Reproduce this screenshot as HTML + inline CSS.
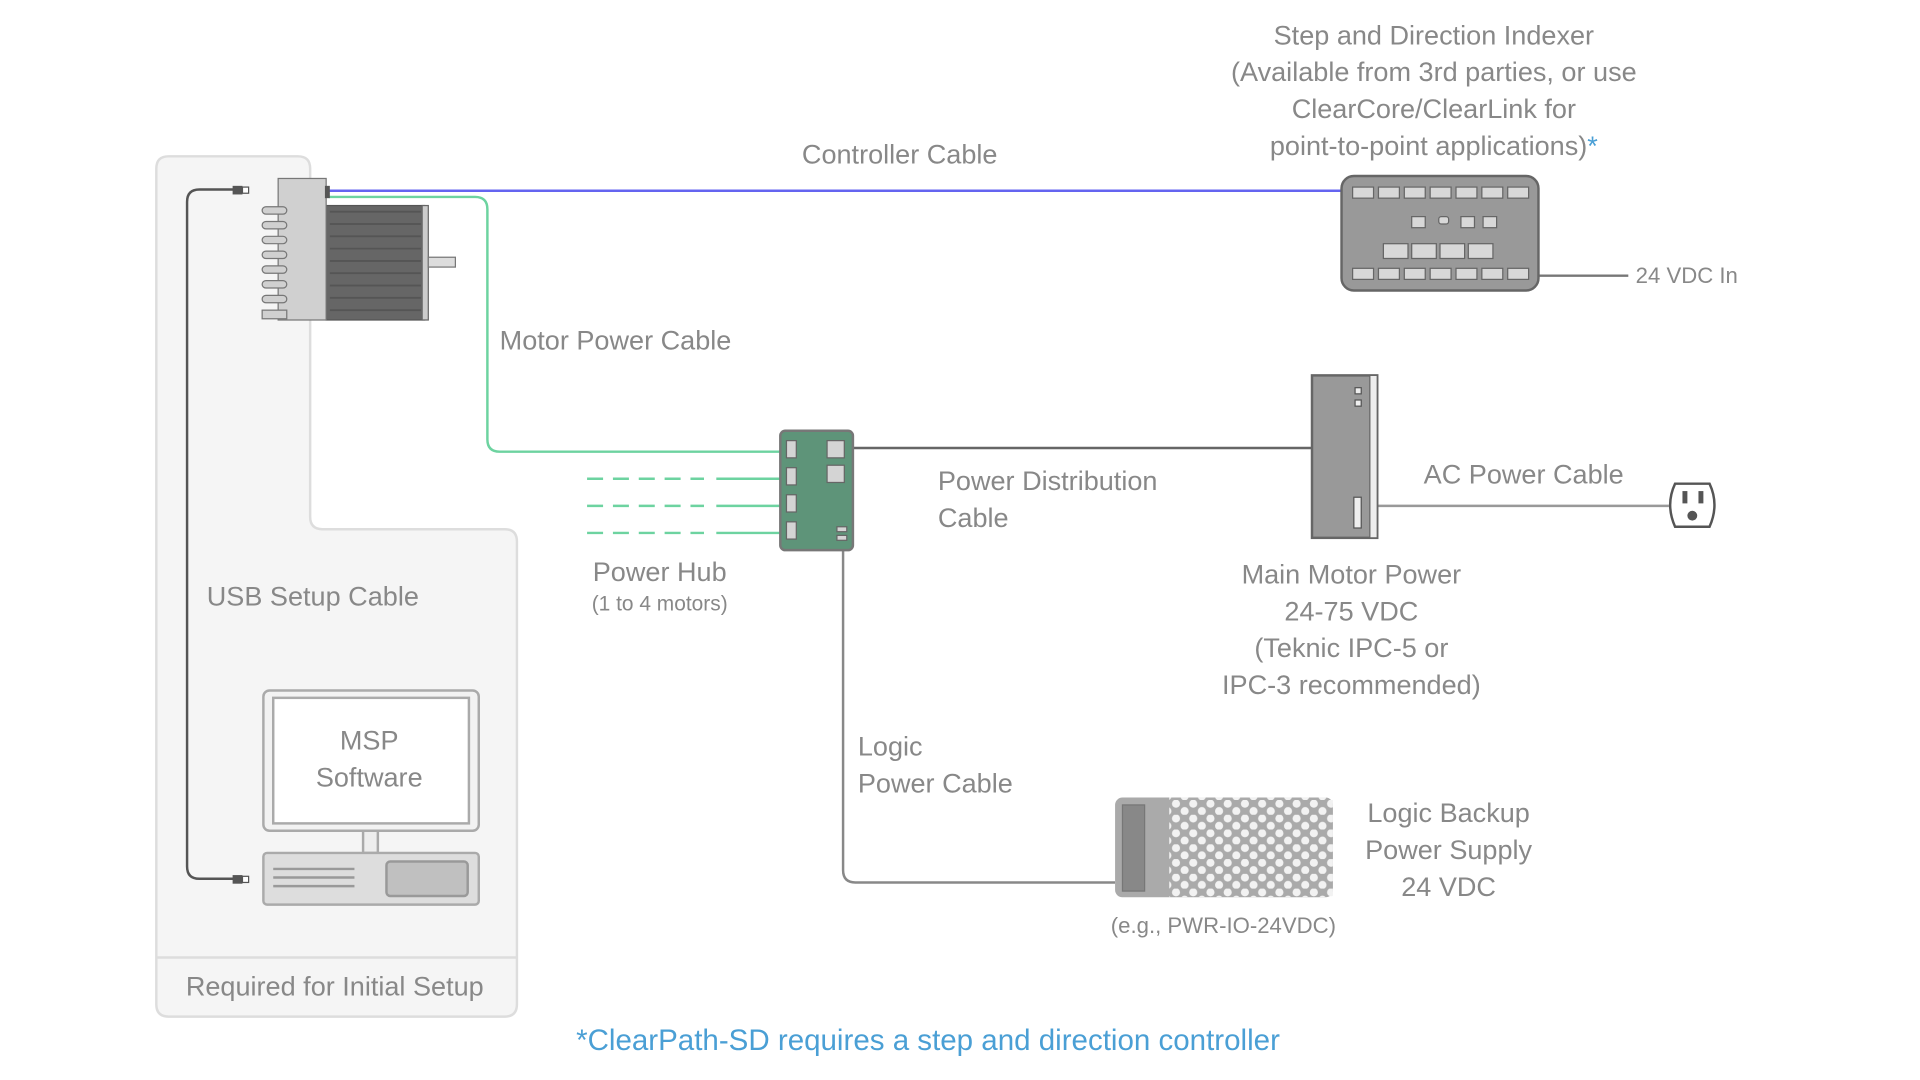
<!DOCTYPE html>
<html><head><meta charset="utf-8"><style>
html,body{margin:0;padding:0;background:#fff;}
svg{display:block;}
text{font-family:"Liberation Sans",sans-serif;fill:#888;}
</style></head><body>
<svg width="1920" height="1080" viewBox="0 0 1560 877.5" preserveAspectRatio="none" xmlns="http://www.w3.org/2000/svg">
<defs>
<pattern id="hex" x="952" y="650" width="14" height="12" patternUnits="userSpaceOnUse">
<circle cx="3.5" cy="3" r="3.3" fill="#f2f2f2"/><circle cx="10.5" cy="9" r="3.3" fill="#f2f2f2"/>
</pattern>
</defs>
<path d="M137 127 H242 Q252 127 252 137 V420 Q252 430 262 430 H410 Q420 430 420 440 V816 Q420 826 410 826 H137 Q127 826 127 816 V137 Q127 127 137 127 Z" fill="#f5f5f5" stroke="#ddd" stroke-width="2"/>
<line x1="127" y1="778" x2="420" y2="778" stroke="#ddd" stroke-width="2"/>
<text x="272" y="809" font-size="22" text-anchor="middle">Required for Initial Setup</text>
<text x="168" y="492" font-size="22">USB Setup Cable</text>
<path d="M193 154 H162 Q152 154 152 164 V704 Q152 714 162 714 H193" fill="none" stroke="#555" stroke-width="2"/>
<rect x="189" y="151" width="8" height="7" fill="#555"/><rect x="197" y="152" width="5" height="5" fill="#fff" stroke="#555"/>
<rect x="189" y="711" width="8" height="7" fill="#555"/><rect x="197" y="712" width="5" height="5" fill="#fff" stroke="#555"/>
<rect x="214" y="561" width="175" height="114" rx="5" fill="#f2f2f2" stroke="#aaa" stroke-width="2"/>
<rect x="222" y="567" width="159" height="102" fill="#fff" stroke="#aaa" stroke-width="2"/>
<text x="300" y="609" font-size="22" text-anchor="middle">MSP</text>
<text x="300" y="639" font-size="22" text-anchor="middle">Software</text>
<rect x="295" y="675" width="12" height="18" fill="#eee" stroke="#aaa" stroke-width="2"/>
<rect x="214" y="693" width="175" height="42" rx="3" fill="#ddd" stroke="#aaa" stroke-width="2"/>
<rect x="314" y="700" width="66" height="28" rx="3" fill="#c0c0c0" stroke="#999" stroke-width="2"/>
<g stroke="#999" stroke-width="2"><line x1="222" y1="706" x2="288" y2="706"/><line x1="222" y1="713" x2="288" y2="713"/><line x1="222" y1="720" x2="288" y2="720"/></g>
<line x1="267" y1="155" x2="1092" y2="155" stroke="#6464f0" stroke-width="2"/>
<path d="M267 160 H386 Q396 160 396 170 V357 Q396 367 406 367 H634" fill="none" stroke="#6dd3a0" stroke-width="2"/>
<g stroke="#6dd3a0" stroke-width="2">
<line x1="477" y1="389" x2="572" y2="389" stroke-dasharray="13 8"/><line x1="582" y1="389" x2="634" y2="389"/>
<line x1="477" y1="411" x2="572" y2="411" stroke-dasharray="13 8"/><line x1="582" y1="411" x2="634" y2="411"/>
<line x1="477" y1="433" x2="572" y2="433" stroke-dasharray="13 8"/><line x1="582" y1="433" x2="634" y2="433"/>
</g>
<line x1="693" y1="364" x2="1066" y2="364" stroke="#666" stroke-width="2"/>
<line x1="1119" y1="411" x2="1356" y2="411" stroke="#999" stroke-width="2"/>
<path d="M685 447 V707 Q685 717 695 717 H906" fill="none" stroke="#888" stroke-width="2"/>
<line x1="1250" y1="224" x2="1323" y2="224" stroke="#777" stroke-width="2"/>
<rect x="265" y="167" width="80" height="93" fill="#666" stroke="#555"/>
<g stroke="#555" stroke-width="1.5"><line x1="268" y1="172" x2="342" y2="172"/><line x1="268" y1="182" x2="342" y2="182"/><line x1="268" y1="192" x2="342" y2="192"/><line x1="268" y1="202" x2="342" y2="202"/><line x1="268" y1="212" x2="342" y2="212"/><line x1="268" y1="222" x2="342" y2="222"/><line x1="268" y1="232" x2="342" y2="232"/><line x1="268" y1="242" x2="342" y2="242"/><line x1="268" y1="252" x2="342" y2="252"/></g>
<rect x="343" y="167" width="5" height="93" fill="#ccc" stroke="#666"/>
<rect x="348" y="209" width="22" height="8" fill="#ddd" stroke="#777"/>
<rect x="226" y="145" width="39" height="115" fill="#d0d0d0" stroke="#777"/>
<g fill="#d0d0d0" stroke="#777">
<rect x="213" y="168" width="20" height="6" rx="3"/><rect x="213" y="180" width="20" height="6" rx="3"/><rect x="213" y="192" width="20" height="6" rx="3"/><rect x="213" y="204" width="20" height="6" rx="3"/><rect x="213" y="216" width="20" height="6" rx="3"/><rect x="213" y="228" width="20" height="6" rx="3"/><rect x="213" y="240" width="20" height="6" rx="3"/><rect x="213" y="252" width="20" height="7"/>
</g>
<rect x="264" y="151" width="4" height="10" fill="#555"/>
<rect x="634" y="350" width="59" height="97" rx="4" fill="#5e9479" stroke="#777" stroke-width="2"/>
<g fill="#d4d4d4" stroke="#666"><rect x="639" y="358" width="8" height="14"/><rect x="639" y="380" width="8" height="14"/><rect x="639" y="402" width="8" height="14"/><rect x="639" y="424" width="8" height="14"/><rect x="672" y="358" width="14" height="14"/><rect x="672" y="378" width="14" height="14"/><rect x="680" y="428" width="8" height="4"/><rect x="680" y="435" width="8" height="4"/></g>
<text x="536" y="472" font-size="22" text-anchor="middle">Power Hub</text>
<text x="536" y="496" font-size="17" text-anchor="middle">(1 to 4 motors)</text>
<rect x="1090" y="143" width="160" height="93" rx="10" fill="#999" stroke="#666" stroke-width="2"/>
<g fill="#d8d8d8" stroke="#666"><rect x="1099" y="152" width="17" height="9"/><rect x="1120" y="152" width="17" height="9"/><rect x="1141" y="152" width="17" height="9"/><rect x="1162" y="152" width="17" height="9"/><rect x="1183" y="152" width="17" height="9"/><rect x="1204" y="152" width="17" height="9"/><rect x="1225" y="152" width="17" height="9"/>
<rect x="1099" y="218" width="17" height="9"/><rect x="1120" y="218" width="17" height="9"/><rect x="1141" y="218" width="17" height="9"/><rect x="1162" y="218" width="17" height="9"/><rect x="1183" y="218" width="17" height="9"/><rect x="1204" y="218" width="17" height="9"/><rect x="1225" y="218" width="17" height="9"/>
<rect x="1124" y="198" width="20" height="12"/><rect x="1147" y="198" width="20" height="12"/><rect x="1170" y="198" width="20" height="12"/><rect x="1193" y="198" width="20" height="12"/>
<rect x="1147" y="176" width="11" height="9"/><rect x="1169" y="176" width="8" height="6" rx="2"/><rect x="1187" y="176" width="11" height="9"/><rect x="1205" y="176" width="11" height="9"/></g>
<text x="1165" y="36" font-size="22" text-anchor="middle">Step and Direction Indexer</text>
<text x="1165" y="66" font-size="22" text-anchor="middle">(Available from 3rd parties, or use</text>
<text x="1165" y="96" font-size="22" text-anchor="middle">ClearCore/ClearLink for</text>
<text x="1165" y="126" font-size="22" text-anchor="middle">point-to-point applications)<tspan fill="#4a9fd5">*</tspan></text>
<text x="1329" y="230" font-size="18">24 VDC In</text>
<text x="731" y="133" font-size="22" text-anchor="middle">Controller Cable</text>
<text x="406" y="284" font-size="22">Motor Power Cable</text>
<rect x="1066" y="305" width="53" height="132" fill="#999" stroke="#666" stroke-width="2"/>
<rect x="1113" y="305" width="6" height="132" fill="#eee" stroke="#666"/>
<rect x="1101" y="315" width="5" height="5" fill="#eee" stroke="#555"/><rect x="1101" y="325" width="5" height="5" fill="#eee" stroke="#555"/>
<rect x="1100" y="404" width="6" height="25" fill="#eee" stroke="#555"/>
<text x="762" y="398" font-size="22">Power Distribution</text>
<text x="762" y="428" font-size="22">Cable</text>
<text x="1238" y="393" font-size="22" text-anchor="middle">AC Power Cable</text>
<path d="M1361 393 H1389 Q1397 410 1389 428 H1361 Q1353 410 1361 393 Z" fill="#fff" stroke="#555" stroke-width="2"/>
<rect x="1367" y="399" width="4" height="10" fill="#555"/><rect x="1380" y="399" width="4" height="10" fill="#555"/>
<circle cx="1375" cy="419" r="4" fill="#555"/>
<text x="1098" y="474" font-size="22" text-anchor="middle">Main Motor Power</text>
<text x="1098" y="504" font-size="22" text-anchor="middle">24-75 VDC</text>
<text x="1098" y="534" font-size="22" text-anchor="middle">(Teknic IPC-5 or</text>
<text x="1098" y="564" font-size="22" text-anchor="middle">IPC-3 recommended)</text>
<text x="697" y="614" font-size="22">Logic</text>
<text x="697" y="644" font-size="22">Power Cable</text>
<rect x="906" y="648" width="177" height="81" rx="6" fill="#aaa"/>
<rect x="912" y="654" width="18" height="70" fill="#888" stroke="#777"/>
<rect x="950" y="648" width="133" height="81" fill="url(#hex)"/>
<text x="1177" y="668" font-size="22" text-anchor="middle">Logic Backup</text>
<text x="1177" y="698" font-size="22" text-anchor="middle">Power Supply</text>
<text x="1177" y="728" font-size="22" text-anchor="middle">24 VDC</text>
<text x="994" y="758" font-size="18" text-anchor="middle">(e.g., PWR-IO-24VDC)</text>
<text x="754" y="853" font-size="24" text-anchor="middle" style="fill:#4a9fd5">*ClearPath-SD requires a step and direction controller</text>
</svg>
</body></html>
